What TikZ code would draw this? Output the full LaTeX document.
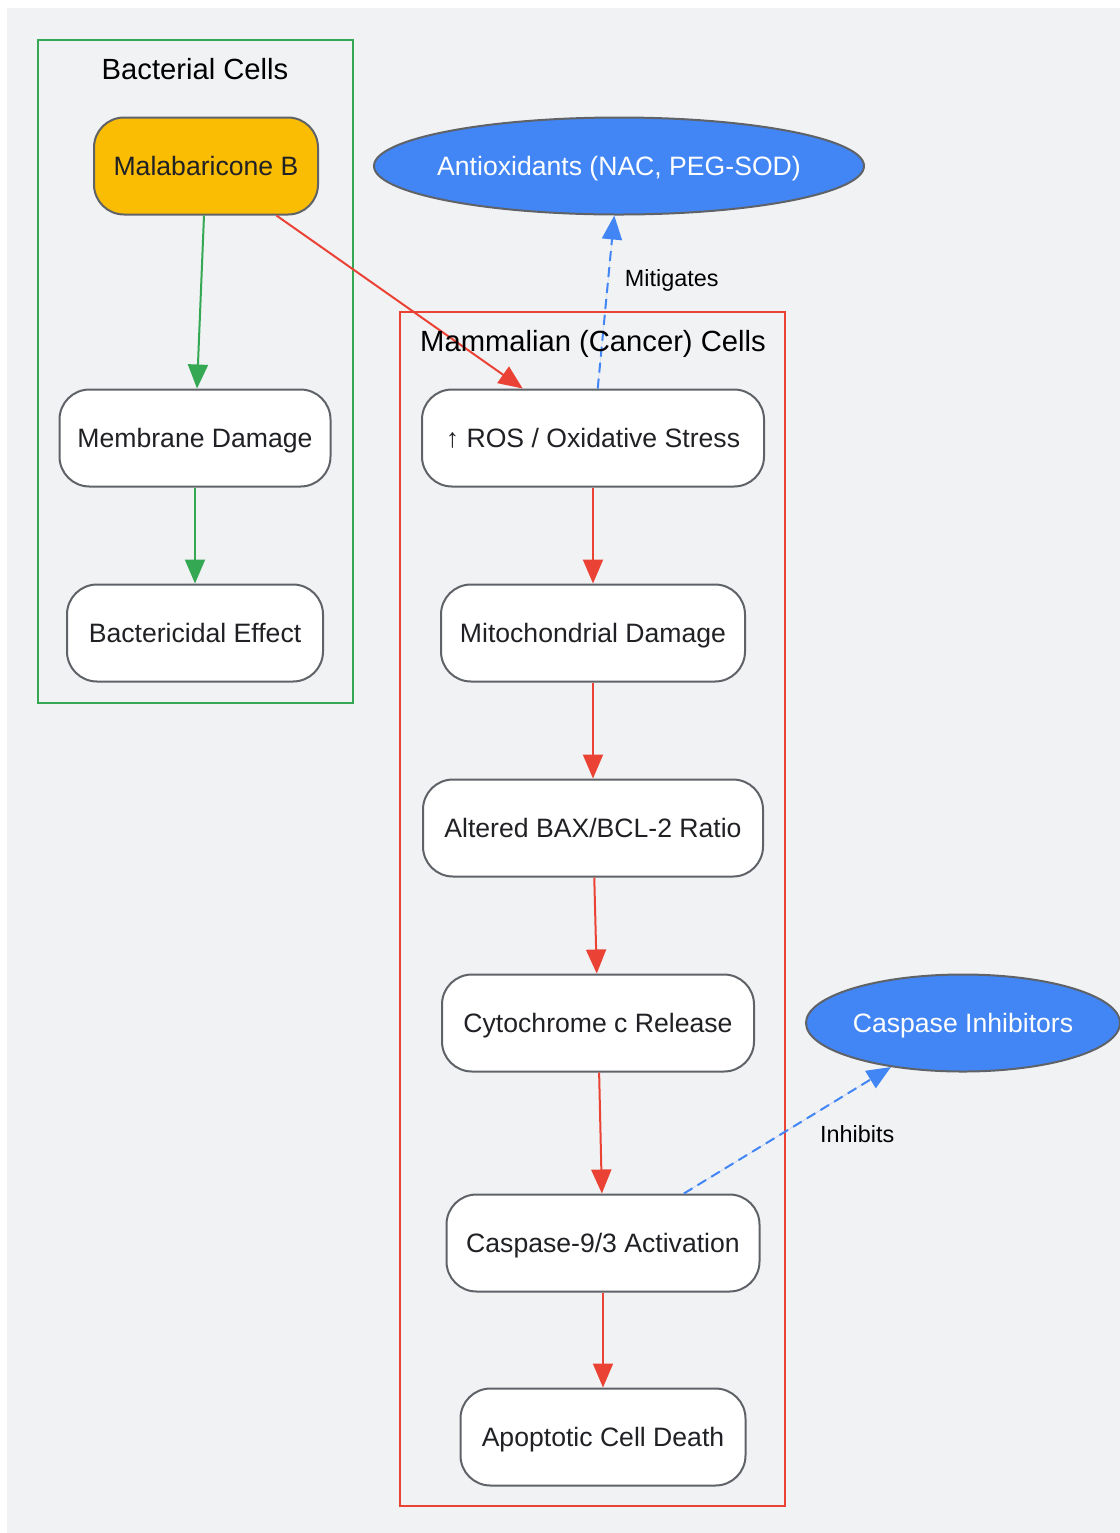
\documentclass[tikz,border=0pt]{standalone}
\usepackage{fontspec}
\setmainfont{Liberation Sans}
\usetikzlibrary{arrows.meta,shapes.geometric}

\definecolor{bgc}{HTML}{F1F2F4}
\definecolor{ggreen}{HTML}{34A853}
\definecolor{gred}{HTML}{EA4335}
\definecolor{gblue}{HTML}{4285F4}
\definecolor{gyellow}{HTML}{FBBC04}
\definecolor{gborder}{HTML}{5F6368}
\definecolor{gtext}{HTML}{202124}

\tikzset{
  stepbox/.style={draw=gborder, line width=1pt, fill=white, rounded corners=15pt,
    minimum height=48.5pt, inner sep=0pt, text=gtext, text height=9.9pt, text depth=0pt,
    font=\fontsize{13.3}{16}\selectfont},
  agent/.style={ellipse, draw=gborder, line width=1pt, fill=gblue, text=white,
    minimum height=48.5pt, inner sep=0pt, text height=9.9pt, text depth=0pt,
    font=\fontsize{13.3}{16}\selectfont},
  cluster/.style={line width=1pt},
  ctitle/.style={font=\fontsize{14.6}{17}\selectfont, text=black, text height=10.5pt, text depth=0pt},
  flow/.style={line width=1pt, -{Triangle[length=12pt,width=10pt]}},
  modul/.style={flow, draw=gblue, dash pattern=on 5pt off 3pt},
  elabel/.style={font=\fontsize{11.7}{14}\selectfont, text=black},
}

\begin{document}
\begin{tikzpicture}[x=0.5pt, y=-0.5pt]
  \useasboundingbox (0,0) rectangle (1120,1533);
  \fill[bgc] (7,8) rectangle (1120,1533);

  % clusters
  \draw[cluster, draw=ggreen] (38,40) rectangle (353,703);
  \node[ctitle] (tbac) at (195,69) {Bacterial Cells};
  \draw[cluster, draw=gred] (400,312) rectangle (785,1506);

  % bacterial side
  \node[stepbox, fill=gyellow, minimum width=112pt] (mala) at (206,166) {Malabaricone B};
  \node[stepbox, minimum width=135.5pt] (memb) at (195,438) {Membrane Damage};
  \node[stepbox, minimum width=128pt] (bact) at (195,633) {Bactericidal Effect};

  % mammalian side
  \node[stepbox, minimum width=171pt] (ros) at (593,438) {↑ ROS / Oxidative Stress};
  \node[stepbox, minimum width=152pt] (mito) at (593,633) {Mitochondrial Damage};
  \node[stepbox, minimum width=170pt] (bax) at (593,828) {Altered BAX/BCL-2 Ratio};
  \node[stepbox, minimum width=156pt] (cyto) at (598,1023) {Cytochrome c Release};
  \node[stepbox, minimum width=156.5pt] (casp) at (603,1243) {Caspase-9/3 Activation};
  \node[stepbox, minimum width=142.5pt] (apop) at (603,1437) {Apoptotic Cell Death};

  % modulators
  \node[agent, inner xsep=-4.4pt, minimum width=245pt] (antiox) at (619,166) {Antioxidants (NAC, PEG-SOD)};
  \node[agent, minimum width=157pt] (cinh) at (963,1023) {Caspase Inhibitors};

  \draw[flow, draw=ggreen, fill=ggreen] (mala) edge (memb);
  \draw[flow, draw=ggreen, fill=ggreen] (memb) edge (bact);
  \draw[flow, draw=gred, fill=gred] (mala) edge (ros);
  \draw[flow, draw=gred, fill=gred] (ros) edge (mito);
  \draw[flow, draw=gred, fill=gred] (mito) edge (bax);
  \draw[flow, draw=gred, fill=gred] (bax) edge (cyto);
  \draw[flow, draw=gred, fill=gred] (cyto) edge (casp);
  \draw[flow, draw=gred, fill=gred] (casp) edge (apop);

  \draw[modul, fill=gblue] (ros) -- (antiox)
    node[elabel, pos=0.64, anchor=west, xshift=4.5pt, yshift=-1.5pt] (lmit) {Mitigates};
  \draw[modul, fill=gblue] (casp) -- (cinh)
    node[elabel, pos=0.5, anchor=west, xshift=12.5pt, yshift=-2pt] (linh) {Inhibits};

  \node[ctitle] (tmam) at (593,341) {Mammalian (Cancer) Cells};
\end{tikzpicture}
\end{document}
